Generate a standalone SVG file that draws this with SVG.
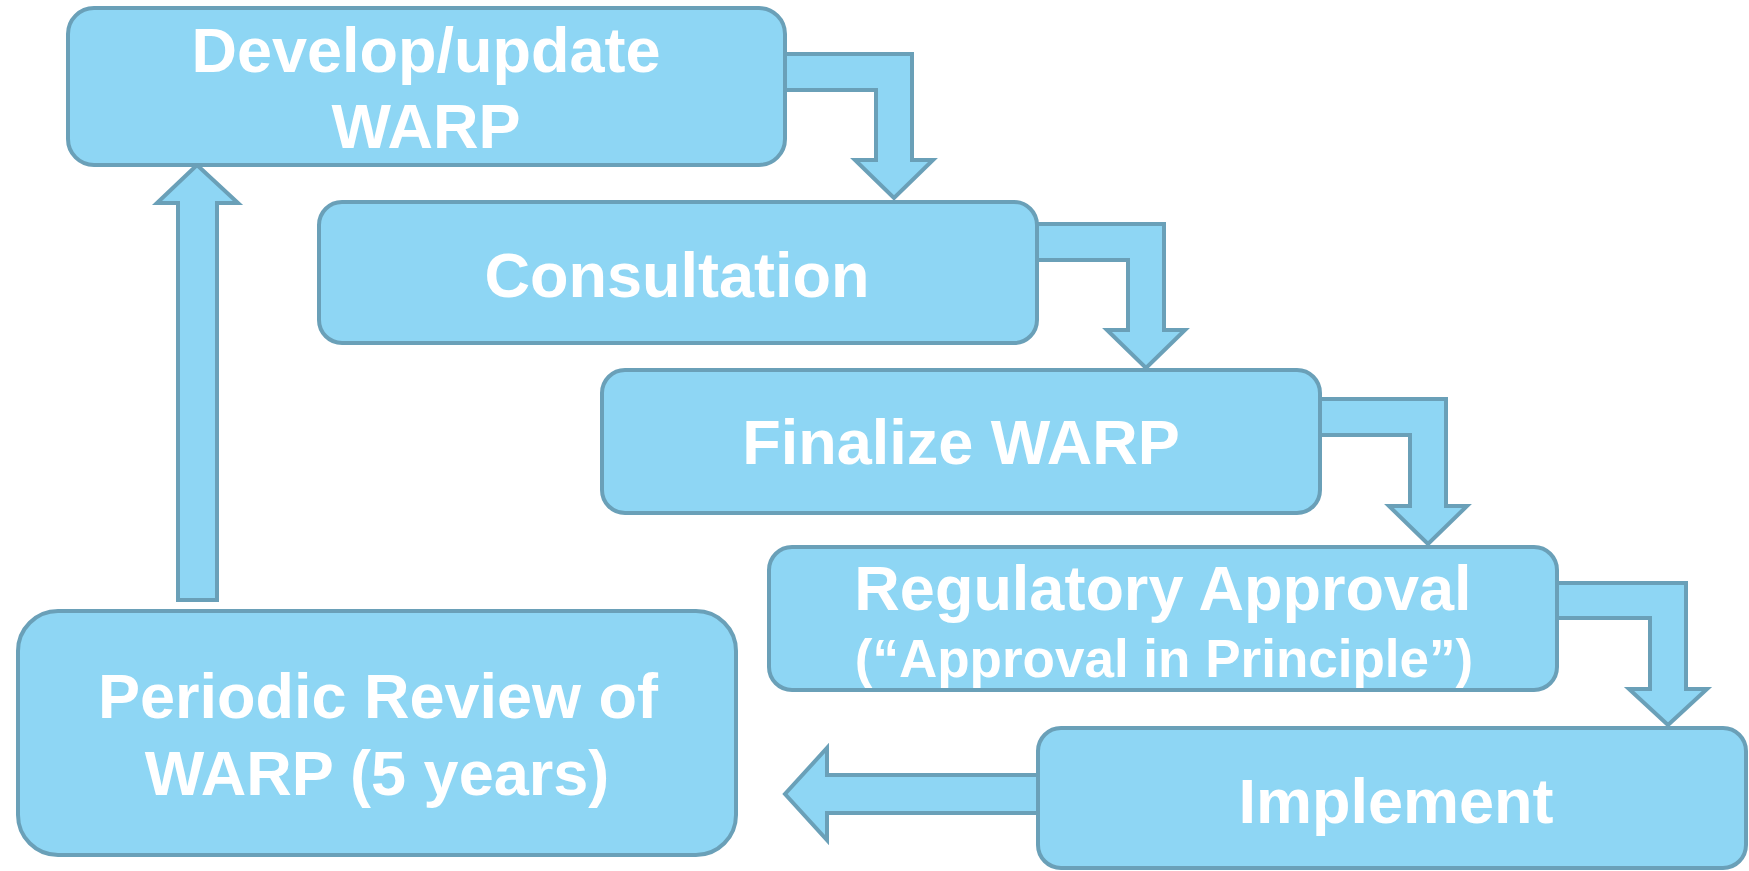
<svg xmlns="http://www.w3.org/2000/svg" width="1749" height="871" viewBox="0 0 1749 871">
<style>
.box{fill:#8ED6F4;stroke:#6AA0B8;stroke-width:4}
.arr{fill:#8ED6F4;stroke:#6AA0B8;stroke-width:4;stroke-linejoin:miter}
.t{font-family:"Liberation Sans",Arial,sans-serif;font-weight:bold;fill:#FFFFFF;text-anchor:middle}
</style>
<rect width="1749" height="871" fill="#FFFFFF"/>
<g id="connectors">
<polygon class="arr" points="770,54 912,54 912,160 933,160 894,198 855,160 876,160 876,90 770,90"/>
<polygon class="arr" points="1025,224 1164,224 1164,330 1185,330 1146,368 1107,330 1128,330 1128,260 1025,260"/>
<polygon class="arr" points="1310,399 1446,399 1446,506 1467,506 1428,544 1389,506 1410,506 1410,435 1310,435"/>
<polygon class="arr" points="1545,583 1686,583 1686,689 1707,689 1668,725 1629,689 1650,689 1650,618 1545,618"/>
<polygon class="arr" points="1050,775 827,775 827,748 785,794 827,840 827,813 1050,813"/>
<polygon class="arr" points="178,600 178,203 157,203 197,165 238,203 217,203 217,600"/>
</g>
<g id="node-develop">
<rect class="box" x="68" y="8" width="717" height="157" rx="26"/>
<text class="t" x="426" y="72" font-size="63">Develop/update</text>
<text class="t" x="426" y="148" font-size="63">WARP</text>
</g>
<g id="node-consultation">
<rect class="box" x="319" y="202" width="718" height="141" rx="23"/>
<text class="t" x="677" y="297" font-size="63">Consultation</text>
</g>
<g id="node-finalize">
<rect class="box" x="602" y="370" width="718" height="143" rx="23"/>
<text class="t" x="961" y="464" font-size="63">Finalize WARP</text>
</g>
<g id="node-regulatory">
<rect class="box" x="769" y="547" width="788" height="143" rx="23"/>
<text class="t" x="1163" y="610" font-size="63">Regulatory Approval</text>
<text class="t" x="1164" y="677" font-size="53">(“Approval in Principle”)</text>
</g>
<g id="node-implement">
<rect class="box" x="1038" y="728" width="708" height="140" rx="23"/>
<text class="t" x="1396" y="823" font-size="63">Implement</text>
</g>
<g id="node-periodic">
<rect class="box" x="18" y="611" width="718" height="244" rx="40"/>
<text class="t" x="378" y="718" font-size="63">Periodic Review of</text>
<text class="t" x="377" y="795" font-size="63">WARP (5 years)</text>
</g>
</svg>
